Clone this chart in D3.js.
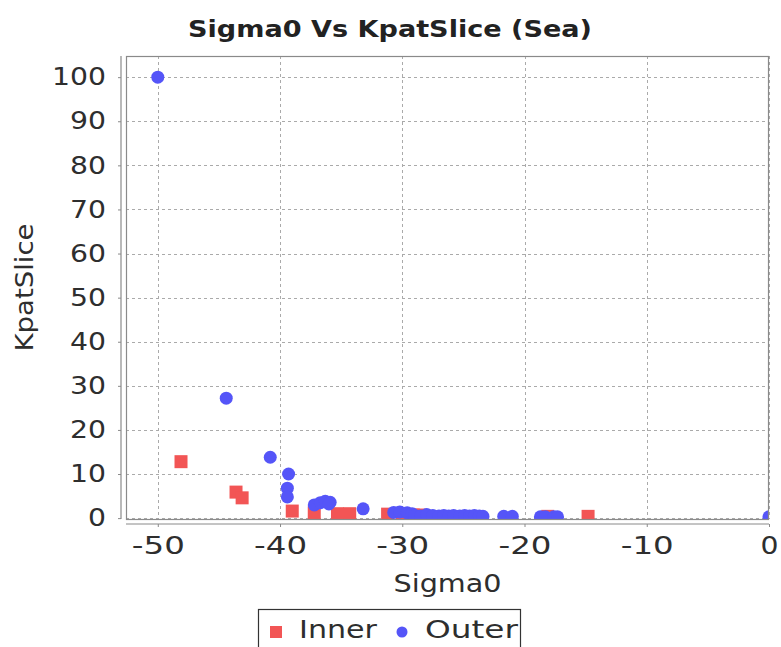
<!DOCTYPE html>
<html><head><meta charset="utf-8">
<script src="https://cdn.jsdelivr.net/npm/d3@7"></script>
<style>body{margin:0;background:#fff;} svg{display:block;}</style>
</head><body>
<svg id="c" width="781" height="647"></svg>
<script>
const title = "Sigma0 Vs KpatSlice (Sea)";
const xLabel = "Sigma0";
const yLabel = "KpatSlice";
const seriesNames = ["Inner", "Outer"];
const xTicks = [-50, -40, -30, -20, -10, 0];
const yTicks = [0, 10, 20, 30, 40, 50, 60, 70, 80, 90, 100];

const innerX = [-48.1, -43.6, -43.1, -39.0, -37.2, -35.3, -34.3, -31.2, -30.0, -29.1, -28.6, -18.1, -14.8];
const innerY = [12.8, 5.9, 4.6, 1.6, 1.2, 1.0, 1.0, 0.9, 0.8, 0.7, 0.7, 0.4, 0.4];

const outerX = [-50.0, -44.4, -40.8, -39.3, -39.4, -39.4, -37.2, -36.7, -36.3, -35.9, -36.0, -33.2,
  -30.7, -30.2, -29.6, -29.2, -29.0, -28.5, -28.0, -27.5, -27.0, -26.6, -26.2, -25.8, -25.3, -24.9,
  -24.5, -24.1, -23.7, -23.4, -21.7, -21.0, -18.7, -18.3, -17.6, -17.3, 0.0];
const outerY = [100, 27.2, 13.8, 10.0, 6.8, 4.8, 3.0, 3.5, 3.8, 3.6, 3.2, 2.1,
  1.3, 1.4, 1.2, 1.0, 0.6, 0.5, 0.8, 0.6, 0.5, 0.6, 0.5, 0.6, 0.5, 0.6,
  0.5, 0.6, 0.5, 0.4, 0.4, 0.4, 0.3, 0.3, 0.3, 0.3, 0.3];

const svg = d3.select("#c");
const L = 126, R = 769, T = 56, B = 519;
const x = d3.scaleLinear().domain([-52.6, 0]).range([L, R]);
const y = d3.scaleLinear().domain([-0.2, 104.8]).range([B, T]);
const font = "DejaVu Sans, sans-serif";
const ink = "#2e2e2e";

function fit(sel, w) {
  sel.attr("textLength", w).attr("lengthAdjust", "spacingAndGlyphs");
}

// title
svg.append("text").attr("x", 390).attr("y", 37).attr("text-anchor", "middle")
  .attr("font-family", font).attr("font-weight", "bold").attr("font-size", 23)
  .attr("fill", "#222").text(title).call(fit, 404);

// grid
const grid = svg.append("g").attr("stroke", "#aaaaaa").attr("stroke-dasharray", "3,3").attr("stroke-width", 1);
xTicks.forEach(v => grid.append("line").attr("x1", Math.round(x(v)) + 0.5).attr("x2", Math.round(x(v)) + 0.5).attr("y1", T).attr("y2", B));
yTicks.forEach(v => grid.append("line").attr("y1", Math.round(y(v)) + 0.5).attr("y2", Math.round(y(v)) + 0.5).attr("x1", L).attr("x2", R));

// points (clipped)
svg.append("clipPath").attr("id", "clip").append("rect").attr("x", L).attr("y", T).attr("width", R - L).attr("height", B - T);
const pts = svg.append("g").attr("clip-path", "url(#clip)");
const inner = innerX.map((v, i) => ({x: v, y: innerY[i]}));
const outer = outerX.map((v, i) => ({x: v, y: outerY[i]}));
pts.selectAll("rect.in").data(inner).join("rect").attr("class", "in")
  .attr("x", d => x(d.x) - 6.5).attr("y", d => y(d.y) - 6.5).attr("width", 13).attr("height", 13)
  .attr("fill", "#f25555");
pts.selectAll("circle.out").data(outer).join("circle").attr("class", "out")
  .attr("cx", d => x(d.x)).attr("cy", d => y(d.y)).attr("r", 6.5)
  .attr("fill", "#5555f8");

// plot border
svg.append("rect").attr("x", L + 0.5).attr("y", T + 0.5).attr("width", R - L - 1).attr("height", B - T)
  .attr("fill", "none").attr("stroke", "#8a8a8a").attr("stroke-width", 1.2);

// axes
const tickW = d => 18 * String(Math.abs(d)).length + (d < 0 ? 17 : 0);
const xAxis = d3.axisBottom(x).tickValues(xTicks).tickSize(3).tickSizeOuter(0).tickPadding(10).tickFormat(d3.format("d"));
const gx = svg.append("g").attr("transform", `translate(0,${B + 5})`).call(xAxis);
const yAxis = d3.axisLeft(y).tickValues(yTicks).tickSize(3).tickSizeOuter(0).tickPadding(12).tickFormat(d3.format("d"));
const gy = svg.append("g").attr("transform", `translate(${L - 5},0)`).call(yAxis);
[gx, gy].forEach(g => {
  g.select(".domain").attr("stroke", "#8a8a8a").attr("stroke-width", 1.2);
  g.selectAll(".tick line").attr("stroke", "#8a8a8a");
  g.selectAll(".tick text").attr("font-family", font).attr("font-size", 24).attr("fill", ink)
    .each(function(d) { d3.select(this).call(fit, tickW(d)); });
});
gx.selectAll(".tick text").text(d => d === 0 ? "0" : String(d));
gy.select(".domain").attr("d", `M0,${T}V${B}`);
gx.select(".domain").attr("d", `M${L},0H${R}`);

// axis labels
svg.append("text").attr("x", (L + R) / 2).attr("y", 592).attr("text-anchor", "middle")
  .attr("font-family", font).attr("font-size", 24).attr("fill", ink).text(xLabel).call(fit, 108);
svg.append("text").attr("transform", `translate(33,${(T + B) / 2}) rotate(-90)`).attr("text-anchor", "middle")
  .attr("font-family", font).attr("font-size", 24).attr("fill", ink).text(yLabel).call(fit, 128);

// legend
const lg = svg.append("g");
lg.append("rect").attr("x", 258.5).attr("y", 609.5).attr("width", 262).attr("height", 45)
  .attr("fill", "#fff").attr("stroke", "#333").attr("stroke-width", 1.2);
lg.append("rect").attr("x", 270).attr("y", 626).attr("width", 12).attr("height", 12).attr("fill", "#f25555");
lg.append("text").attr("x", 299).attr("y", 638).attr("font-family", font).attr("font-size", 24).attr("fill", ink)
  .text(seriesNames[0]).call(fit, 78);
lg.append("circle").attr("cx", 402).attr("cy", 632).attr("r", 5.5).attr("fill", "#5555f8");
lg.append("text").attr("x", 425).attr("y", 638).attr("font-family", font).attr("font-size", 24).attr("fill", ink)
  .text(seriesNames[1]).call(fit, 93);
</script>
</body></html>
